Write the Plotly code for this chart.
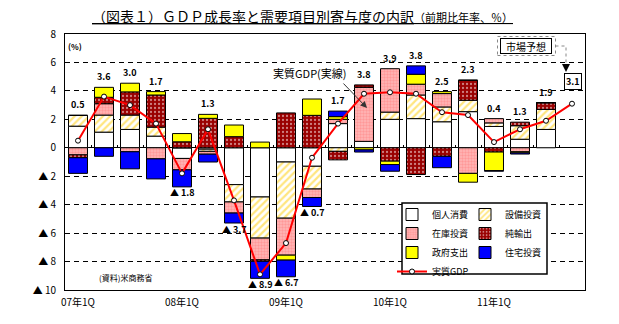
import plotly.graph_objects as go

# ---------------- data ----------------
quarters = ["07年1Q", "07年2Q", "07年3Q", "07年4Q",
            "08年1Q", "08年2Q", "08年3Q", "08年4Q",
            "09年1Q", "09年2Q", "09年3Q", "09年4Q",
            "10年1Q", "10年2Q", "10年3Q", "10年4Q",
            "11年1Q", "11年2Q", "11年3Q", "11年4Q"]
x_tick_labels = ["07年1Q", "08年1Q", "09年1Q", "10年1Q", "11年1Q"]

consumption = [1.52, 1.10, 1.29, 0.82, -0.75, -0.10, -2.59, -3.46, -1.00, -1.30,
               1.70, 0.45, 2.00, 2.05, 1.83, 2.54, 1.50, 0.60, 1.29, None]
capex = [0.76, 1.20, 1.01, 0.63, 0.00, -0.15, -1.22, -2.89, -3.95, -1.60,
         -0.25, 0.00, 0.51, 1.66, 1.04, 0.80, 0.25, 0.95, 1.41, None]
inventory = [-0.50, 0.80, -0.28, -0.78, -0.80, -0.20, -0.78, -1.53, -2.60, -0.60,
             0.30, 3.80, 3.05, 0.76, 0.94, -1.80, 0.30, -0.28, 0.00, None]
net_exports = [-0.20, 0.45, 1.63, 2.26, 0.42, 2.07, 0.78, -0.10, 2.45, 2.28,
               -0.60, 0.17, -0.94, -1.88, -0.60, 1.41, -0.30, 0.25, 0.47, None]
government = [0.00, 0.70, 0.61, 0.24, 0.58, 0.28, 0.82, 0.40, -0.35, 1.15,
              0.19, -0.15, -0.24, 0.70, 0.14, -0.62, -1.30, -0.08, 0.00, None]
housing = [-1.10, -0.60, -1.20, -1.41, -1.20, -0.55, -0.70, -1.20, -1.17, -0.63,
           0.39, -0.15, -0.47, 0.59, -0.80, 0.00, -0.05, -0.08, 0.00, None]
real_gdp = [0.5, 3.6, 3.0, 1.7, -1.8, 1.3, -3.7, -8.9, -6.7, -0.7,
            1.7, 3.8, 3.9, 3.8, 2.5, 2.3, 0.4, 1.3, 1.9, 3.1]
forecast_index = 19

y_tick_vals = [8, 6, 4, 2, 0, -2, -4, -6, -8, -10]
y_tick_text = ["8", "6", "4", "2", "0", "▲ 2", "▲ 4", "▲ 6", "▲ 8", "▲ 10"]

# ---------------- style ----------------
JP = "Noto Sans CJK JP"
W, H = 619, 324
ML, MR, MT, MB = 65, 34, 34, 34
PW, PH = W - ML - MR, H - MT - MB


def px_x(p):
    return (p - ML) / PW


def px_y(p):
    return (H - MB - p) / PH


fig = go.Figure()

series = [
    ("個人消費", consumption, dict(color="white"), "legend"),
    ("設備投資", capex, dict(color="white", pattern=dict(shape="/", fgcolor="#FFCC00",
                                                        bgcolor="white", size=5, solidity=0.45)), "legend2"),
    ("在庫投資", inventory, dict(color="#FF9999", pattern=dict(shape=".", fgcolor="#FF7777",
                                                          bgcolor="#FFB8B8", size=3, solidity=0.5)), "legend"),
    ("純輸出", net_exports, dict(color="#990000", pattern=dict(shape=".", fgcolor="white",
                                                          bgcolor="#990000", size=4, solidity=0.25)), "legend2"),
    ("政府支出", government, dict(color="#FFFF00"), "legend"),
    ("住宅投資", housing, dict(color="#0000FF"), "legend2"),
]
for name, vals, mk, lg in series:
    mk = dict(mk)
    mk["line"] = dict(color="black", width=1)
    fig.add_trace(go.Bar(x=quarters, y=vals, name=name, marker=mk, legend=lg))

fig.add_trace(go.Scatter(
    x=quarters, y=real_gdp, name="実質GDP", mode="lines+markers",
    line=dict(color="#FF0000", width=2),
    marker=dict(symbol="circle", size=5, color="white", line=dict(color="black", width=1)),
    legend="legend"))

# invisible helper trace for the zero-line boundary tick axis
fig.add_trace(go.Scatter(x=[-0.5, 19.5], y=[0, 0], xaxis="x2", mode="lines",
                         opacity=0, showlegend=False, hoverinfo="skip"))

# ---------------- labels on bars ----------------
annotations = []
for i, g in enumerate(real_gdp):
    if i == forecast_index:
        continue
    comps = [s[1][i] for s in series]
    pos = sum(v for v in comps if v is not None and v > 0)
    neg = sum(v for v in comps if v is not None and v < 0)
    if g >= 0:
        annotations.append(dict(x=quarters[i], y=pos, text=f"<b>{g:.1f}</b>", showarrow=False,
                                yanchor="bottom", yshift=2, font=dict(size=9, family=JP, color="black")))
    else:
        annotations.append(dict(x=quarters[i], y=neg, text=f"<b>▲ {abs(g):.1f}</b>", showarrow=False,
                                yanchor="middle", yshift=-6, font=dict(size=9, family=JP, color="black")))

# forecast value box
annotations.append(dict(x=quarters[forecast_index], y=real_gdp[forecast_index],
                        text=f"<b>{real_gdp[forecast_index]:.1f}</b>", showarrow=False,
                        yanchor="middle", yshift=22, xshift=1,
                        bordercolor="black", borderwidth=1, borderpad=1, bgcolor="white",
                        font=dict(size=9, family=JP, color="black")))

# title
annotations.append(dict(
    xref="paper", yref="paper", x=px_x(302), y=px_y(16), xanchor="center", yanchor="middle",
    text="<u>（図表１）ＧＤＰ成長率と需要項目別寄与度の内訳"
         "<span style='font-size:11px'>（前期比年率、％）</span></u>",
    showarrow=False, font=dict(size=14, family=JP, color="black")))
# (%)
annotations.append(dict(xref="paper", yref="paper", x=px_x(66), y=px_y(46), xanchor="left",
                        yanchor="middle", text="<b>(%)</b>", showarrow=False,
                        font=dict(size=8, family=JP, color="black")))
# source
annotations.append(dict(xref="paper", yref="paper", x=px_x(97), y=px_y(277), xanchor="left",
                        yanchor="middle", text="(資料)米商務省", showarrow=False,
                        font=dict(size=8, family=JP, color="black")))
# 実質GDP(実線) caption and arrow
annotations.append(dict(xref="paper", yref="paper", x=px_x(310), y=px_y(73), xanchor="center",
                        yanchor="middle", text="実質GDP(実線)", showarrow=False,
                        font=dict(size=11, family=JP, color="black")))
annotations.append(dict(xref="paper", yref="paper", x=px_x(367), y=px_y(108), ax=-25, ay=-26,
                        text="", showarrow=True, arrowhead=2, arrowsize=1.3, arrowwidth=1,
                        arrowcolor="#333333"))
# 市場予想 box
annotations.append(dict(xref="paper", yref="paper", x=px_x(526), y=px_y(46), xanchor="center",
                        yanchor="middle", text="市場予想", showarrow=False,
                        width=48, height=12, borderpad=1, bordercolor="black", borderwidth=1,
                        bgcolor="white", font=dict(size=10, family=JP, color="black")))
annotations.append(dict(xref="paper", yref="paper", x=px_x(566), y=px_y(72), ax=0, ay=-8,
                        text="", showarrow=True, arrowhead=2, arrowsize=1.6, arrowwidth=1,
                        arrowcolor="black"))

shapes = [
    # legend frame
    dict(type="rect", xref="paper", yref="paper", x0=px_x(402), x1=px_x(547),
         y0=px_y(274), y1=px_y(203), line=dict(color="black", width=1.5),
         fillcolor="white", layer="above"),
    # 市場予想 shadow frame
    dict(type="rect", xref="paper", yref="paper", x0=px_x(497.5), x1=px_x(555.5),
         y0=px_y(55.5), y1=px_y(36.5), line=dict(color="#888888", width=1, dash="dot"),
         layer="above"),
    # connector
    dict(type="path", xref="paper", yref="paper",
         path=f"M {px_x(555.5)},{px_y(46)} L {px_x(566)},{px_y(46)} L {px_x(566)},{px_y(66)}",
         line=dict(color="#888888", width=1, dash="dot"), layer="above"),
]

fig.update_layout(
    width=W, height=H, margin=dict(l=ML, r=MR, t=MT, b=MB),
    paper_bgcolor="white", plot_bgcolor="white",
    barmode="relative", bargap=0.27,
    font=dict(family=JP, size=10, color="black"),
    showlegend=True,
    legend=dict(x=px_x(392), y=px_y(200), xanchor="left", yanchor="top",
                bgcolor="rgba(0,0,0,0)", font=dict(size=9, family=JP), tracegroupgap=0,
                itemclick=False),
    legend2=dict(x=px_x(465), y=px_y(200), xanchor="left", yanchor="top",
                 bgcolor="rgba(0,0,0,0)", font=dict(size=9, family=JP), tracegroupgap=0),
    xaxis=dict(type="category", categoryorder="array", categoryarray=quarters,
               range=[-0.5, 19.5], tickvals=x_tick_labels, ticktext=x_tick_labels,
               showgrid=False, showline=True, mirror=True, linecolor="black", linewidth=1,
               ticks="", ticklabelstandoff=3, tickfont=dict(size=10, family=JP), zeroline=False),
    xaxis2=dict(overlaying="x", anchor="free", position=10 / 18, range=[-0.5, 19.5],
                tickvals=[k + 0.5 for k in range(19)], ticks="inside", ticklen=3,
                tickcolor="black", tickwidth=1, showticklabels=False, showgrid=False,
                showline=False, zeroline=False),
    yaxis=dict(range=[-10, 8], tickvals=y_tick_vals, ticktext=y_tick_text,
               showgrid=True, gridcolor="black", gridwidth=1, griddash="5px,4px",
               zeroline=True, zerolinecolor="black", zerolinewidth=1,
               showline=True, mirror=True, linecolor="black", linewidth=1,
               ticks="", ticklabelstandoff=6, tickfont=dict(size=10, family=JP)),
    annotations=annotations, shapes=shapes,
)

fig.write_html("out.html")
